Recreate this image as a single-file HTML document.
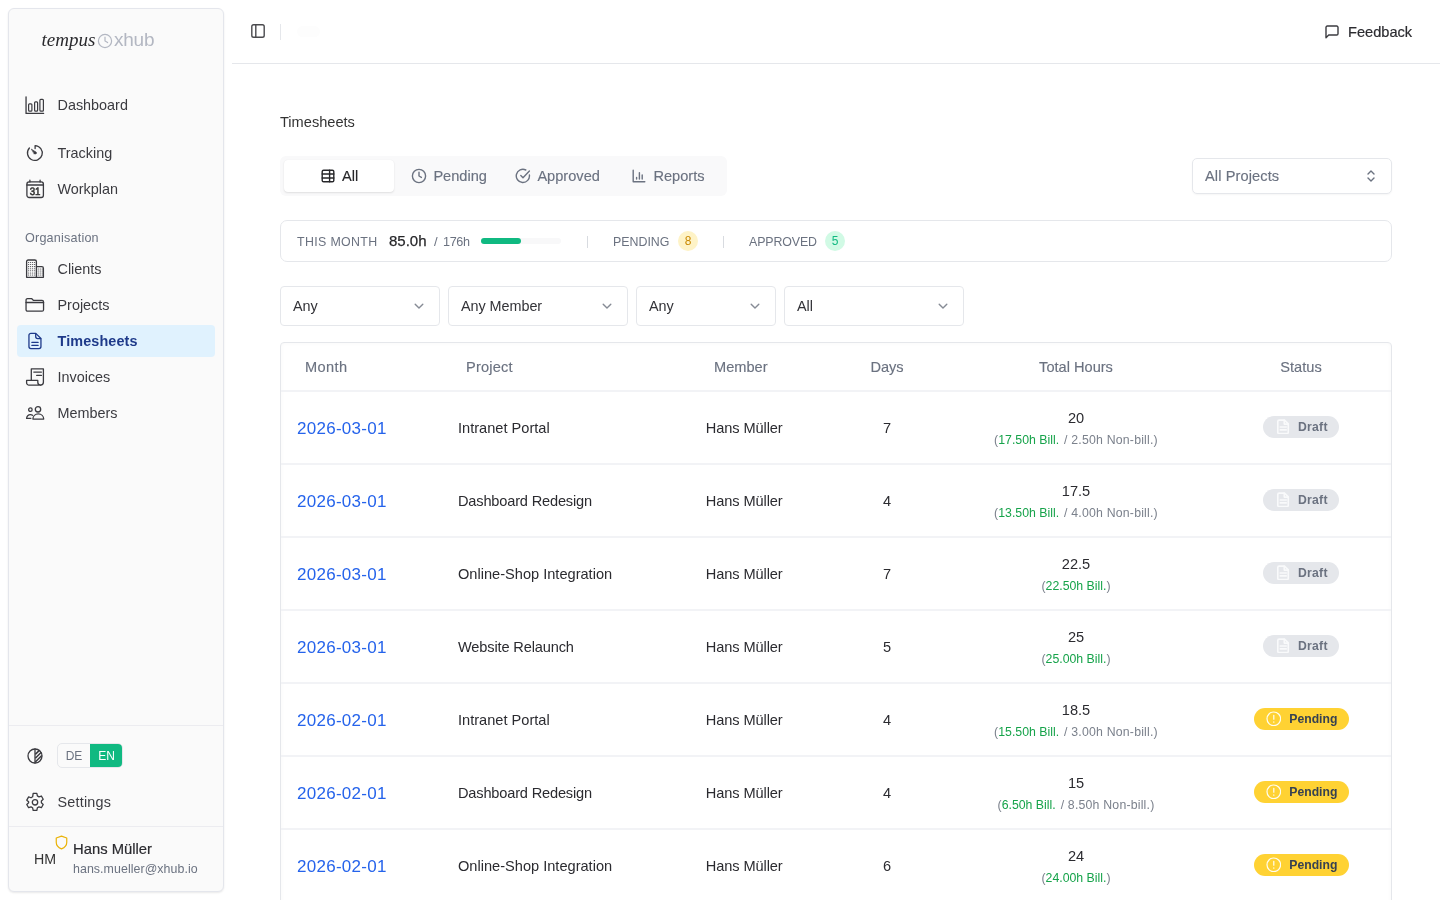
<!DOCTYPE html>
<html lang="en">
<head>
<meta charset="utf-8">
<title>Timesheets</title>
<style>
*{box-sizing:border-box;margin:0;padding:0}
html,body{width:1440px;height:900px;overflow:hidden;background:#fff}
body{font-family:"Liberation Sans",sans-serif;color:#27272a;font-size:14px;position:relative}
svg{display:block}
.abs{position:absolute}
/* sidebar */
#sb{position:absolute;left:8px;top:8px;width:216px;height:884px;background:#fafafa;border:1px solid #e4e6ec;border-radius:6px;box-shadow:0 1px 2px rgba(0,0,0,.09)}
.logo{position:absolute;left:32.6px;top:19.6px;height:24px;display:flex;align-items:baseline;white-space:nowrap}
.logo .t{font-family:"Liberation Serif",serif;font-style:italic;font-size:19px;color:#2a2a2e}
.logo .x{font-size:19px;color:#b3b7c2;letter-spacing:-.2px;position:relative;top:.4px}
.nav{position:absolute;left:8px;width:198px;height:32px;border-radius:4px;display:flex;align-items:center;font-size:14.4px;color:#3b3b40;white-space:nowrap}
.nav .ic{position:absolute;left:8px;top:6px;width:20px;height:20px}
.nav span{position:absolute;left:40.500px;top:7px;line-height:18px}
.nav.on{background:#e0f2fe;color:#1e3a8a;font-weight:700;letter-spacing:.12px}
.glabel{position:absolute;left:16px;margin-top:1px;letter-spacing:.2px;font-size:12.6px;color:#6b7280;line-height:16px}
.sep{position:absolute;left:0;width:214px;height:1px;background:#ececf0}
/* header */
#hd{position:absolute;left:232px;top:0;width:1208px;height:64px;border-bottom:1px solid #e5e7eb}
/* main */
.tx{position:absolute;white-space:nowrap;line-height:1}

.tabs{position:absolute;left:280px;top:156px;width:447px;height:40px;background:#f9f9fa;border-radius:6px}
.tab{position:absolute;top:4px;height:32px;display:flex;align-items:center;color:#6b7280;-webkit-text-stroke:.15px currentColor;font-size:14.6px;white-space:nowrap}
.tab svg{margin-right:6.400px}
.tab.on{background:#fff;border-radius:4px;box-shadow:0 1px 2px rgba(0,0,0,.1),0 0 1px rgba(0,0,0,.06);color:#27272a;justify-content:center}
.box{position:absolute;border:1px solid #e5e7eb;border-radius:6px;background:#fff}
.sel{position:absolute;top:286px;height:40px;border:1px solid #e5e7eb;border-radius:4px;background:#fff;font-size:14.400px;letter-spacing:-.05px;color:#333338}
.sel span{position:absolute;left:12px;top:10px;line-height:18px;white-space:nowrap}
.sel svg{position:absolute;right:12.800px;top:12px}
.lbl{position:absolute;font-size:12.4px;letter-spacing:.55px;color:#6b7280;line-height:14px;white-space:nowrap}
.cnt{position:absolute;width:20px;height:20px;border-radius:10px;font-size:12px;line-height:20px;text-align:center}

#tb{position:absolute;left:280px;top:342px;width:1112px;height:600px;border:1px solid #e5e7eb;border-radius:4px 4px 0 0;box-shadow:inset 0 0 4px rgba(0,0,0,.035)}
.th{position:absolute;top:0;height:48px;line-height:48px;font-size:14.6px;color:#6b7280;-webkit-text-stroke:.15px #6b7280;white-space:nowrap}
.tr{position:absolute;left:0;width:1110px;height:74px;margin-top:-1px;padding-top:1px;border-top:2px solid #f2f3f6}
.tr>*{position:absolute;white-space:nowrap}
.dt{left:16px;top:26px;letter-spacing:.27px;font-size:17px;line-height:22px;color:#2563eb}
.pj{left:177px;top:27px;font-size:14.600px;line-height:18px;color:#2b2b30}
.mb{left:424.800px;letter-spacing:-.1px;top:27px;font-size:14.600px;line-height:18px;color:#2b2b30}
.dy{left:552px;width:108px;text-align:center;top:27px;font-size:14.600px;line-height:18px;color:#2b2b30}
.hr{left:660px;width:270px;text-align:center;top:17px;font-size:14.600px;line-height:18px;color:#2b2b30}
.hs{left:660px;width:270px;text-align:center;top:41px;font-size:12.300px;line-height:14px;color:#7b818c}
.hs b{font-weight:400;color:#16a34a}
.hs i{font-style:normal;letter-spacing:.2px;margin-left:5px}
.bd{height:22px;border-radius:11px;top:23.600px;font-size:12.200px;font-weight:700;line-height:22px}
.bd svg{position:absolute;top:4px}
.bd.d{left:982px;letter-spacing:.25px;width:76px;background:#e5e7eb;color:#6b7280}
.bd.d span{position:absolute;left:35px}
.bd.p{left:973.300px;width:94.500px;background:#ffd233;color:#374151}
.bd.p span{position:absolute;left:35px}
#root{position:absolute;left:0;top:0;width:1440px;height:900px;overflow:hidden;will-change:transform}
</style>
</head>
<body>
<div id="root">
<div id="sb">
  <div class="logo"><span class="t">tempus</span><svg width="16" height="16" viewBox="0 0 16 16" style="align-self:center;margin:0 0.8px 0 1.7px;position:relative;top:.4px"><circle cx="8" cy="8" r="6.6" fill="none" stroke="#b3b7c2" stroke-width="1.2"/><path d="M8 4.2V8l2.6 1.6" fill="none" stroke="#b3b7c2" stroke-width="1.2" stroke-linecap="round"/></svg><span class="x">xhub</span></div>
  <div class="nav" style="top:80px"><svg class="ic" viewBox="0 0 20 20" stroke="currentColor" stroke-width="1.3" fill="none" stroke-linecap="round" stroke-linejoin="round"><path d="M1.050 1.800V18.400H18.600"/><g stroke-width="1.200"><rect x="3.600" y="8.800" width="3.300" height="7.300" rx=".900"/><rect x="9.600" y="6.800" width="3" height="9.300" rx=".900"/><rect x="14.900" y="4.300" width="3.500" height="11.800" rx=".900"/></g></svg><span>Dashboard</span></div>
  <div class="nav" style="top:128px"><svg class="ic" viewBox="0 0 20 20" stroke="currentColor" stroke-width="1.3" fill="none" stroke-linecap="round" stroke-linejoin="round"><path d="M10.100 5.600V2.600a7.400 7.400 0 1 1-5.700 2.400"/><path d="M6.600 6.300L11.200 9.200L9.500 10.900Z" fill="currentColor" stroke-width=".600"/><circle cx="10.350" cy="10.050" r="1" fill="currentColor" stroke-width=".500"/></svg><span>Tracking</span></div>
  <div class="nav" style="top:164px"><svg class="ic" viewBox="0 0 20 20" stroke="currentColor" stroke-width="1.3" fill="none" stroke-linecap="round" stroke-linejoin="round"><rect x="1.900" y="2.950" width="16.500" height="15.550" rx="2.200"/><path d="M1.900 6h16.500M4.900 1.200v1.800M15.100 1.200v1.800"/></svg><b style="position:absolute;left:8px;top:13.500px;width:20px;text-align:center;font-size:10.800px;line-height:10px;font-weight:400;-webkit-text-stroke:.55px #333;letter-spacing:-.3px;transform:scaleX(.9) rotate(.02deg);text-rendering:geometricPrecision;color:#333">31</b><span>Workplan</span></div>
  <div class="nav" style="top:244px"><svg class="ic" viewBox="0 0 20 20" stroke="currentColor" stroke-width="1.3" fill="none" stroke-linecap="round" stroke-linejoin="round"><path d="M1.600 18.300V2.600a1.600 1.600 0 0 1 1.600-1.600h6.600a1.600 1.600 0 0 1 1.600 1.600v15.700z"/><path d="M11.400 7.600h5.400a1.600 1.600 0 0 1 1.600 1.600v9.100h-7"/><g stroke-width="1.050" stroke-dasharray="0.100 1.900" stroke-linecap="round"><path d="M3.600 3.400h6.500M3.600 5.500h6.500M3.600 7.600h6.500M3.600 9.700h6.500M3.600 11.800h6.500M3.600 13.900h6.500M3.600 16h6.500M13.200 9.900h4.200M13.200 12h4.200M13.200 14h4.200M13.200 16h4.200"/></g></svg><span>Clients</span></div>
  <div class="nav" style="top:280px"><svg class="ic" viewBox="0 0 20 20" stroke="currentColor" stroke-width="1.3" fill="none" stroke-linecap="round" stroke-linejoin="round"><path d="M1.050 5.050a1.500 1.500 0 0 1 1.500-1.500h4l2 1.900h8.500a1.500 1.500 0 0 1 1.500 1.500v7.700a1.500 1.500 0 0 1-1.500 1.500H2.550a1.500 1.500 0 0 1-1.500-1.500z"/><path d="M1.050 7.500h17.500"/></svg><span>Projects</span></div>
  <div class="nav on" style="top:316px"><svg class="ic" viewBox="0 0 20 20" stroke="currentColor" stroke-width="1.3" fill="none" stroke-linecap="round" stroke-linejoin="round" stroke-width="1.5"><path d="M5.950 2.350h4.800l5.200 5.200v8a2 2 0 0 1-2 2H5.950a2 2 0 0 1-2-2V4.350a2 2 0 0 1 2-2z"/><path d="M10.700 2.600v3a2 2 0 0 0 2 2h3"/><path d="M6.900 11.400h6.200M6.900 14.400h6.200"/></svg><span>Timesheets</span></div>
  <div class="nav" style="top:352px"><svg class="ic" viewBox="0 0 20 20" stroke="currentColor" stroke-width="1.3" fill="none" stroke-linecap="round" stroke-linejoin="round"><path d="M6.300 13.300V1.900h12.100v13.400a2.800 2.800 0 0 1-2.800 2.800"/><path d="M15.600 18.100H4a2.400 2.400 0 0 1-2.400-2.400v-2.300h11.200v1.900a2.800 2.800 0 0 0 2.800 2.800"/><path d="M8.800 5.100h7.600M11.700 8.400h4.700"/></svg><span>Invoices</span></div>
  <div class="nav" style="top:388px"><svg class="ic" viewBox="0 0 20 20" stroke="currentColor" stroke-width="1.3" fill="none" stroke-linecap="round" stroke-linejoin="round"><circle cx="5.400" cy="6.700" r="1.750"/><circle cx="13" cy="6.300" r="2.700"/><path d="M7.900 16.100c0-3 2.400-5.200 5.400-5.200s5.400 2.200 5.400 5.200z"/><path d="M1.600 15.400c0-2.200 1.700-3.700 3.800-3.700.9 0 1.600.2 2.200.6M1.600 15.400h4.200"/></svg><span>Members</span></div>
  <div class="glabel" style="top:220px">Organisation</div>
  <div class="sep" style="top:716px"></div>
  <svg class="abs" style="left:18px;top:739px;color:#3b3b40" width="16" height="16" viewBox="0 0 16 16" stroke="currentColor" stroke-width="1.3" fill="none" stroke-linecap="round" stroke-linejoin="round"><circle cx="8" cy="8" r="7"/><path d="M8 1v14"/><path d="M8.300 6.400l4.300-4.300M8.300 10.200l6-6M8.300 14l6.500-6.500" stroke-width="1.500" stroke-linecap="butt"/></svg>
  <div class="abs" style="left:48px;top:734px;width:66px;height:25px;border:1px solid #e5e7eb;border-radius:5px;background:#fafafa;font-size:12px;overflow:hidden"><div class="abs" style="left:0;top:0;width:32px;height:23px;line-height:24px;text-align:center;color:#6b7280">DE</div><div class="abs" style="left:32px;top:-1px;width:33px;height:25px;line-height:26px;text-align:center;background:#10b981;color:#fff">EN</div></div>
  <div class="nav" style="top:777px"><svg class="ic" viewBox="0 0 20 20" stroke="currentColor" stroke-width="1.3" fill="none" stroke-linecap="round" stroke-linejoin="round"><g transform="translate(10 10.300) scale(1.080) translate(-10 -10)" stroke-width="1.200"><circle cx="10" cy="10" r="2.500"/><path d="M8.300 1.800h3.400l.5 2.300 1.500.9 2.200-.8 1.700 3-1.700 1.500v1.800l1.700 1.500-1.700 3-2.200-.8-1.500.9-.5 2.300H8.300l-.5-2.300-1.500-.9-2.200.8-1.700-3 1.700-1.500V9.500L2.400 8l1.700-3 2.200.8 1.500-.9z"/></g></svg><span style="letter-spacing:.2px">Settings</span></div>
  <div class="sep" style="top:817px"></div>
  <div class="tx" style="left:25px;top:843px;font-size:14.200px;color:#333">HM</div>
  <svg class="abs" style="left:44.700px;top:826.400px" width="15" height="15" viewBox="0 0 16 16" fill="none" stroke="#eab308" stroke-width="1.300" stroke-linejoin="round"><path d="M8 1.2L2.400 3.200v4.600c0 3.400 2.400 5.800 5.600 7 3.200-1.200 5.600-3.600 5.600-7V3.200z"/></svg>
  <div class="tx" style="left:64px;top:833px;font-size:14.800px;color:#2b2b30;font-weight:500;-webkit-text-stroke:.2px #2b2b30">Hans Müller</div>
  <div class="tx" style="left:64px;top:854px;font-size:12.4px;letter-spacing:.06px;color:#6b7280">hans.mueller@xhub.io</div>
</div>
<div id="hd"></div>
<svg class="abs" style="left:250px;top:23.400px;color:#4a4a4e" width="16" height="16" viewBox="0 0 16 16" stroke="currentColor" stroke-width="1.4" fill="none" stroke-linecap="round" stroke-linejoin="round"><rect x="1.800" y="1.800" width="12.400" height="12.400" rx="1.800"/><path d="M5.800 1.800v12.400"/></svg>
<div class="abs" style="left:280px;top:23.500px;width:1px;height:16px;background:#e5e7eb"></div><div class="abs" style="left:297px;top:26px;width:23px;height:11px;border-radius:6px;background:#fdfdfd"></div>
<svg class="abs" style="left:1323.500px;top:24px;color:#3b3b40" width="16" height="16" viewBox="0 0 16 16" stroke="currentColor" stroke-width="1.4" fill="none" stroke-linecap="round" stroke-linejoin="round"><path d="M2 3.300a1.300 1.300 0 0 1 1.300-1.300h9.400a1.300 1.300 0 0 1 1.300 1.300v6.400a1.300 1.300 0 0 1-1.300 1.300H4.700L2 13.700z"/></svg>
<div class="tx" style="left:1348px;top:25px;font-size:14.6px;color:#2b2b30;font-weight:500;-webkit-text-stroke:.2px #2b2b30">Feedback</div>
<div class="tx" style="left:280px;top:115px;font-size:14.6px;color:#333">Timesheets</div>
<div class="tabs">
  <div class="tab on" style="left:4px;width:110px"><svg width="16" height="16" viewBox="0 0 16 16" stroke="currentColor" stroke-width="1.4" fill="none" stroke-linecap="round" stroke-linejoin="round"><rect x="2.200" y="2.200" width="11.600" height="11.600" rx="1.400"/><path d="M2.200 6h11.600M2.200 10h11.600M9.600 2.200v11.600"/></svg>All</div>
  <div class="tab" style="left:131px"><svg width="16" height="16" viewBox="0 0 16 16" stroke="currentColor" stroke-width="1.4" fill="none" stroke-linecap="round" stroke-linejoin="round"><circle cx="8" cy="8" r="6.600"/><path d="M8 4.200V8l2.400 1.400"/></svg>Pending</div>
  <div class="tab" style="left:235px"><svg width="16" height="16" viewBox="0 0 16 16" stroke="currentColor" stroke-width="1.4" fill="none" stroke-linecap="round" stroke-linejoin="round"><path d="M14.400 7a6.600 6.600 0 1 1-3.600-5"/><path d="M5.800 7.600l2.200 2.200 6.400-6.800"/></svg>Approved</div>
  <div class="tab" style="left:351px"><svg width="16" height="16" viewBox="0 0 16 16" stroke="currentColor" stroke-width="1.4" fill="none" stroke-linecap="round" stroke-linejoin="round"><path d="M2.200 2.200v11.600h11.600"/><path d="M5.600 11V9.400M8.400 11V4.600M11.200 11V7"/></svg>Reports</div>
</div>
<div class="box" style="left:1192px;top:158px;width:200px;height:36px;border-radius:5px;box-shadow:0 1px 2px rgba(0,0,0,.04)"><div class="tx" style="left:12px;top:8px;font-size:14.6px;letter-spacing:.1px;-webkit-text-stroke:.15px #6b7280;color:#6b7280;line-height:18px">All Projects</div><svg class="abs" style="left:171px;top:10px;color:#6b7280" width="14" height="14" viewBox="0 0 14 14" stroke="currentColor" stroke-width="1.4" fill="none" stroke-linecap="round" stroke-linejoin="round"><path d="M4 5l3-3 3 3M4 9l3 3 3-3"/></svg></div>
<div class="box" style="left:280px;top:220px;width:1112px;height:42px;border-radius:7px">
  <div class="lbl" style="left:16px;top:14px;letter-spacing:.35px">THIS MONTH</div>
  <div class="tx" style="left:108px;top:12px;font-size:15px;color:#27272a;font-weight:500;-webkit-text-stroke:.25px #27272a">85.0h</div>
  <div class="tx" style="left:153px;top:14px;font-size:13px;color:#6b7280">/</div><div class="tx" style="left:162px;top:14.600px;font-size:12.600px;letter-spacing:-.35px;color:#6b7280">176h</div>
  <div class="abs" style="left:200px;top:17px;width:80px;height:6px;border-radius:3px;background:#f8f8f9"><div style="width:40px;height:6px;border-radius:3px;background:#10b981"></div></div>
  <div class="abs" style="left:306px;top:15px;width:1px;height:12px;background:#d8dbe0"></div>
  <div class="lbl" style="left:332px;top:14px;letter-spacing:0">PENDING</div>
  <div class="cnt" style="left:397px;top:10px;background:#fef3c7;color:#ca8a04">8</div>
  <div class="abs" style="left:442px;top:15px;width:1px;height:12px;background:#d8dbe0"></div>
  <div class="lbl" style="left:468px;top:14px;letter-spacing:-.12px">APPROVED</div>
  <div class="cnt" style="left:544px;top:10px;background:#d1fae5;color:#10b981">5</div>
</div>
<div class="sel" style="left:280px;width:160px"><span>Any</span><svg width="14" height="14" viewBox="0 0 14 14" stroke="currentColor" stroke-width="1.4" fill="none" stroke-linecap="round" stroke-linejoin="round" style="color:#868b95" stroke-width="1.150"><path d="M3.200 5.200L7 9l3.800-3.800"/></svg></div>
<div class="sel" style="left:448px;width:180px"><span>Any Member</span><svg width="14" height="14" viewBox="0 0 14 14" stroke="currentColor" stroke-width="1.4" fill="none" stroke-linecap="round" stroke-linejoin="round" style="color:#868b95" stroke-width="1.150"><path d="M3.200 5.200L7 9l3.800-3.800"/></svg></div>
<div class="sel" style="left:636px;width:140px"><span>Any</span><svg width="14" height="14" viewBox="0 0 14 14" stroke="currentColor" stroke-width="1.4" fill="none" stroke-linecap="round" stroke-linejoin="round" style="color:#868b95" stroke-width="1.150"><path d="M3.200 5.200L7 9l3.800-3.800"/></svg></div>
<div class="sel" style="left:784px;width:180px"><span>All</span><svg width="14" height="14" viewBox="0 0 14 14" stroke="currentColor" stroke-width="1.4" fill="none" stroke-linecap="round" stroke-linejoin="round" style="color:#868b95" stroke-width="1.150"><path d="M3.200 5.200L7 9l3.800-3.800"/></svg></div>

<div id="tb">
<div class="th" style="left:24px;letter-spacing:.4px">Month</div><div class="th" style="left:185px;letter-spacing:.2px">Project</div><div class="th" style="left:433px">Member</div><div class="th" style="left:552px;width:108px;text-align:center">Days</div><div class="th" style="left:660px;width:270px;text-align:center">Total Hours</div><div class="th" style="left:930px;width:180px;text-align:center">Status</div>
<div class="tr" style="top:48px"><div class="dt">2026-03-01</div><div class="pj">Intranet Portal</div><div class="mb">Hans Müller</div><div class="dy">7</div><div class="hr">20</div><div class="hs">(<b>17.50h Bill.</b><i>/ 2.50h Non-bill.)</i></div><div class="bd d"><svg style="left:12.500px;top:3px" width="14.500" height="15.600" viewBox="0 0 13 14" fill="none" stroke="#f9fafb" stroke-width="1.450" stroke-linejoin="round" stroke-linecap="round"><path d="M2.800 1h4.800l3.400 3.400v7.400a1.200 1.200 0 0 1-1.200 1.200h-7a1.200 1.200 0 0 1-1.200-1.200V2.200a1.200 1.200 0 0 1 1.200-1.200z"/><path d="M7.400 1.200v3.400h3.400"/><path d="M3.800 7.200h5.400M3.800 9.800h5.400"/></svg><span>Draft</span></div></div>
<div class="tr" style="top:121px"><div class="dt">2026-03-01</div><div class="pj" style="letter-spacing:-.18px">Dashboard Redesign</div><div class="mb">Hans Müller</div><div class="dy">4</div><div class="hr">17.5</div><div class="hs">(<b>13.50h Bill.</b><i>/ 4.00h Non-bill.)</i></div><div class="bd d"><svg style="left:12.500px;top:3px" width="14.500" height="15.600" viewBox="0 0 13 14" fill="none" stroke="#f9fafb" stroke-width="1.450" stroke-linejoin="round" stroke-linecap="round"><path d="M2.800 1h4.800l3.400 3.400v7.400a1.200 1.200 0 0 1-1.200 1.200h-7a1.200 1.200 0 0 1-1.200-1.200V2.200a1.200 1.200 0 0 1 1.200-1.200z"/><path d="M7.400 1.200v3.400h3.400"/><path d="M3.800 7.200h5.400M3.800 9.800h5.400"/></svg><span>Draft</span></div></div>
<div class="tr" style="top:194px"><div class="dt">2026-03-01</div><div class="pj">Online-Shop Integration</div><div class="mb">Hans Müller</div><div class="dy">7</div><div class="hr">22.5</div><div class="hs">(<b>22.50h Bill.</b>)</div><div class="bd d"><svg style="left:12.500px;top:3px" width="14.500" height="15.600" viewBox="0 0 13 14" fill="none" stroke="#f9fafb" stroke-width="1.450" stroke-linejoin="round" stroke-linecap="round"><path d="M2.800 1h4.800l3.400 3.400v7.400a1.200 1.200 0 0 1-1.200 1.200h-7a1.200 1.200 0 0 1-1.200-1.200V2.200a1.200 1.200 0 0 1 1.200-1.200z"/><path d="M7.400 1.200v3.400h3.400"/><path d="M3.800 7.200h5.400M3.800 9.800h5.400"/></svg><span>Draft</span></div></div>
<div class="tr" style="top:267px"><div class="dt">2026-03-01</div><div class="pj" style="letter-spacing:-.15px">Website Relaunch</div><div class="mb">Hans Müller</div><div class="dy">5</div><div class="hr">25</div><div class="hs">(<b>25.00h Bill.</b>)</div><div class="bd d"><svg style="left:12.500px;top:3px" width="14.500" height="15.600" viewBox="0 0 13 14" fill="none" stroke="#f9fafb" stroke-width="1.450" stroke-linejoin="round" stroke-linecap="round"><path d="M2.800 1h4.800l3.400 3.400v7.400a1.200 1.200 0 0 1-1.200 1.200h-7a1.200 1.200 0 0 1-1.200-1.200V2.200a1.200 1.200 0 0 1 1.200-1.200z"/><path d="M7.400 1.200v3.400h3.400"/><path d="M3.800 7.200h5.400M3.800 9.800h5.400"/></svg><span>Draft</span></div></div>
<div class="tr" style="top:340px"><div class="dt">2026-02-01</div><div class="pj">Intranet Portal</div><div class="mb">Hans Müller</div><div class="dy">4</div><div class="hr">18.5</div><div class="hs">(<b>15.50h Bill.</b><i>/ 3.00h Non-bill.)</i></div><div class="bd p"><svg style="left:11.400px;top:3.300px" width="15.600" height="15.600" viewBox="0 0 14 14" fill="none" stroke="#fffdf0" stroke-width="1.100" stroke-linecap="round"><circle cx="7" cy="7" r="6.100"/><path d="M7 3.900v3.500M7 9.800v.2"/></svg><span>Pending</span></div></div>
<div class="tr" style="top:413px"><div class="dt">2026-02-01</div><div class="pj" style="letter-spacing:-.18px">Dashboard Redesign</div><div class="mb">Hans Müller</div><div class="dy">4</div><div class="hr">15</div><div class="hs">(<b>6.50h Bill.</b><i>/ 8.50h Non-bill.)</i></div><div class="bd p"><svg style="left:11.400px;top:3.300px" width="15.600" height="15.600" viewBox="0 0 14 14" fill="none" stroke="#fffdf0" stroke-width="1.100" stroke-linecap="round"><circle cx="7" cy="7" r="6.100"/><path d="M7 3.900v3.500M7 9.800v.2"/></svg><span>Pending</span></div></div>
<div class="tr" style="top:486px"><div class="dt">2026-02-01</div><div class="pj">Online-Shop Integration</div><div class="mb">Hans Müller</div><div class="dy">6</div><div class="hr">24</div><div class="hs">(<b>24.00h Bill.</b>)</div><div class="bd p"><svg style="left:11.400px;top:3.300px" width="15.600" height="15.600" viewBox="0 0 14 14" fill="none" stroke="#fffdf0" stroke-width="1.100" stroke-linecap="round"><circle cx="7" cy="7" r="6.100"/><path d="M7 3.900v3.500M7 9.800v.2"/></svg><span>Pending</span></div></div>
<div class="tr" style="top:559px"><div class="dt">2026-02-01</div><div class="pj" style="letter-spacing:-.15px">Website Relaunch</div><div class="mb">Hans Müller</div><div class="dy">5</div><div class="hr">27.5</div><div class="hs">(<b>27.50h Bill.</b>)</div><div class="bd p"><svg style="left:11.400px;top:3.300px" width="15.600" height="15.600" viewBox="0 0 14 14" fill="none" stroke="#fffdf0" stroke-width="1.100" stroke-linecap="round"><circle cx="7" cy="7" r="6.100"/><path d="M7 3.900v3.500M7 9.800v.2"/></svg><span>Pending</span></div></div>
</div>
</div>
</body>
</html>
